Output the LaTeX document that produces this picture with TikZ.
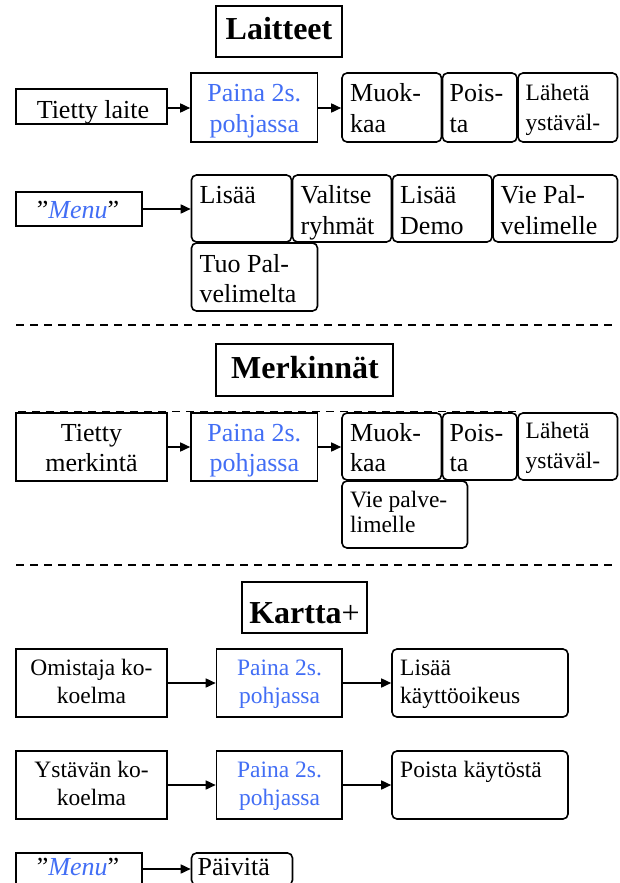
\documentclass[tikz,border=0pt]{standalone}
\usepackage{fontspec}
\setmainfont{Liberation Serif}
\usetikzlibrary{arrows.meta,fit}
\definecolor{pblue}{RGB}{66,110,245}
\tikzset{
  sq/.style={draw, line width=1.6pt, inner sep=0pt},
  rb/.style={draw, line width=1.6pt, inner sep=0pt, rounded corners=5pt},
  arr/.style={line width=1.6pt, -{Triangle[length=10pt,width=9pt]}},
  sep/.style={line width=1.5pt, dash pattern=on 8pt off 6pt},
  tx/.style={inner sep=0pt, font=\fontsize{26}{31}\selectfont},
  ts/.style={inner sep=0pt, font=\fontsize{23.5}{28}\selectfont},
  tt/.style={inner sep=0pt, font=\fontsize{32}{36}\selectfont\bfseries},
}
\begin{document}
\begin{tikzpicture}[x=1pt,y=-1pt]
\useasboundingbox (0,0) rectangle (619,883);
\clip (0,0) rectangle (619,883);
\fill[white] (0,0) rectangle (619,883);

% ---------- Laitteet ----------
\node[sq, fit={(216,6)(342,57)}] (h1) {};
\node[tt, anchor=base] (h1t) at (279,40) {Laitteet};

\node[sq, fit={(16,89)(167,124)}] (a1) {};
\node[tx, anchor=base] (a1t) at (93,118) {Tietty laite};
\node[sq, fit={(191,73)(317.5,142)}] (a2) {};
\node[tx, anchor=base, text=pblue] (a2t1) at (254.3,101) {Paina 2s.};
\node[tx, anchor=base, text=pblue] (a2t2) at (254.3,132) {pohjassa};
\node[rb, fit={(342,73)(441.5,142)}] (a3) {};
\node[tx, anchor=base west] (a3t1) at (350,101) {Muok-};
\node[tx, anchor=base west] (a3t2) at (350,132) {kaa};
\node[rb, fit={(442.5,73)(517,142)}] (a4) {};
\node[tx, anchor=base west] (a4t1) at (449.5,101) {Pois-};
\node[tx, anchor=base west] (a4t2) at (449.5,132) {ta};
\node[rb, fit={(518,73)(617.5,142)}] (a5) {};
\node[ts, anchor=base west] (a5t1) at (525.5,100) {Lähetä};
\node[ts, anchor=base west] (a5t2) at (525.5,130) {ystäväl-};
\draw[arr] (a1.east |- 0,108) -- (a2.west |- 0,108);
\draw[arr] (a2.east |- 0,108) -- (a3.west |- 0,108);

\node[sq, fit={(16,192)(142,226)}] (b1) {};
\node[tx, anchor=base] (b1t) at (78,218) {”\textit{\textcolor{pblue}{Menu}}”};
\node[rb, fit={(191.5,175)(291.5,242)}] (b2) {};
\node[tx, anchor=base west] (b2t) at (199.5,203) {Lisää};
\node[rb, fit={(292.5,175)(391.5,242)}] (b3) {};
\node[tx, anchor=base west] (b3t1) at (300.5,203) {Valitse};
\node[tx, anchor=base west] (b3t2) at (300.5,234) {ryhmät};
\node[rb, fit={(392.5,175)(492,242)}] (b4) {};
\node[tx, anchor=base west] (b4t1) at (400,203) {Lisää};
\node[tx, anchor=base west] (b4t2) at (400,234) {Demo};
\node[rb, fit={(493,175)(617.5,242)}] (b5) {};
\node[tx, anchor=base west] (b5t1) at (500.5,203) {Vie Pal-};
\node[tx, anchor=base west] (b5t2) at (500.5,234) {velimelle};
\node[rb, fit={(191.5,243)(317.5,311)}] (b6) {};
\node[tx, anchor=base west] (b6t1) at (199.5,272) {Tuo Pal-};
\node[tx, anchor=base west] (b6t2) at (199.5,302) {velimelta};
\draw[arr] (b1.east) -- (b2.west |- b1.east);

\coordinate (s1a) at (16,325);
\coordinate (s1b) at (612,325);
\draw[sep] (s1a) -- (s1b);

% ---------- Merkinnät ----------
\node[sq, fit={(216,344)(393,396)}] (h2) {};
\node[tt, anchor=base] (h2t) at (305,378) {Merkinnät};

\coordinate (s3a) at (18,411.5);
\coordinate (s3b) at (516,411.5);
\draw[sep, line width=1.2pt] (s3a) -- (s3b);

\node[sq, fit={(16,413)(167,481)}] (c1) {};
\node[tx, anchor=base] (c1t1) at (91.5,441.5) {Tietty};
\node[tx, anchor=base] (c1t2) at (91.5,471.5) {merkintä};
\node[sq, fit={(191,413)(317.5,481)}] (c2) {};
\node[tx, anchor=base, text=pblue] (c2t1) at (254.3,441) {Paina 2s.};
\node[tx, anchor=base, text=pblue] (c2t2) at (254.3,471.5) {pohjassa};
\node[rb, fit={(342,413)(441.5,480)}] (c3) {};
\node[tx, anchor=base west] (c3t1) at (350,441) {Muok-};
\node[tx, anchor=base west] (c3t2) at (350,471) {kaa};
\node[rb, fit={(442.5,413)(517,480)}] (c4) {};
\node[tx, anchor=base west] (c4t1) at (449.5,441) {Pois-};
\node[tx, anchor=base west] (c4t2) at (449.5,471) {ta};
\node[rb, fit={(518,413)(617.5,480)}] (c5) {};
\node[ts, anchor=base west] (c5t1) at (525.5,438) {Lähetä};
\node[ts, anchor=base west] (c5t2) at (525.5,468) {ystäväl-};
\node[rb, fit={(342,481)(467.5,548)}] (c6) {};
\node[ts, anchor=base west] (c6t1) at (350,507) {Vie palve-};
\node[ts, anchor=base west] (c6t2) at (350,532.5) {limelle};
\draw[arr] (c1.east |- 0,447) -- (c2.west |- 0,447);
\draw[arr] (c2.east |- 0,447) -- (c3.west |- 0,447);

\coordinate (s2a) at (16,565);
\coordinate (s2b) at (612,565);
\draw[sep] (s2a) -- (s2b);

% ---------- Kartta+ ----------
\node[sq, fit={(242,582)(367,633)}] (h3) {};
\node[tt, anchor=base] (h3t) at (304.5,623) {Kartta\mdseries+};

\node[sq, fit={(16,649)(167,717)}] (d1) {};
\node[ts, anchor=base] (d1t1) at (91.5,675) {Omistaja ko-};
\node[ts, anchor=base] (d1t2) at (91.5,703.5) {koelma};
\node[sq, fit={(216.5,649)(342,717)}] (d2) {};
\node[ts, anchor=base, text=pblue] (d2t1) at (279.5,675) {Paina 2s.};
\node[ts, anchor=base, text=pblue] (d2t2) at (279.5,703.5) {pohjassa};
\node[rb, fit={(392,649)(568,717)}] (d3) {};
\node[ts, anchor=base west] (d3t1) at (400,675) {Lisää};
\node[ts, anchor=base west] (d3t2) at (400,703.5) {käyttöoikeus};
\draw[arr] (d1.east) -- (d2.west);
\draw[arr] (d2.east) -- (d3.west);

\node[sq, fit={(16,751)(167,819)}] (e1) {};
\node[ts, anchor=base] (e1t1) at (91.5,777) {Ystävän ko-};
\node[ts, anchor=base] (e1t2) at (91.5,805) {koelma};
\node[sq, fit={(216.5,751)(342,819)}] (e2) {};
\node[ts, anchor=base, text=pblue] (e2t1) at (279.5,777) {Paina 2s.};
\node[ts, anchor=base, text=pblue] (e2t2) at (279.5,805) {pohjassa};
\node[rb, fit={(392,751)(568,819)}] (e3) {};
\node[ts, anchor=base west] (e3t) at (400,777) {Poista käytöstä};
\draw[arr] (e1.east) -- (e2.west);
\draw[arr] (e2.east) -- (e3.west);

\node[sq, fit={(16,853)(142,885)}] (f1) {};
\node[tx, anchor=base] (f1t) at (78,875) {”\textit{\textcolor{pblue}{Menu}}”};
\node[rb, fit={(191.5,853)(292.5,885)}] (f2) {};
\node[tx, anchor=base west] (f2t) at (197.5,875) {Päivitä};
\draw[arr] (f1.east) -- (f2.west);
\end{tikzpicture}
\end{document}
